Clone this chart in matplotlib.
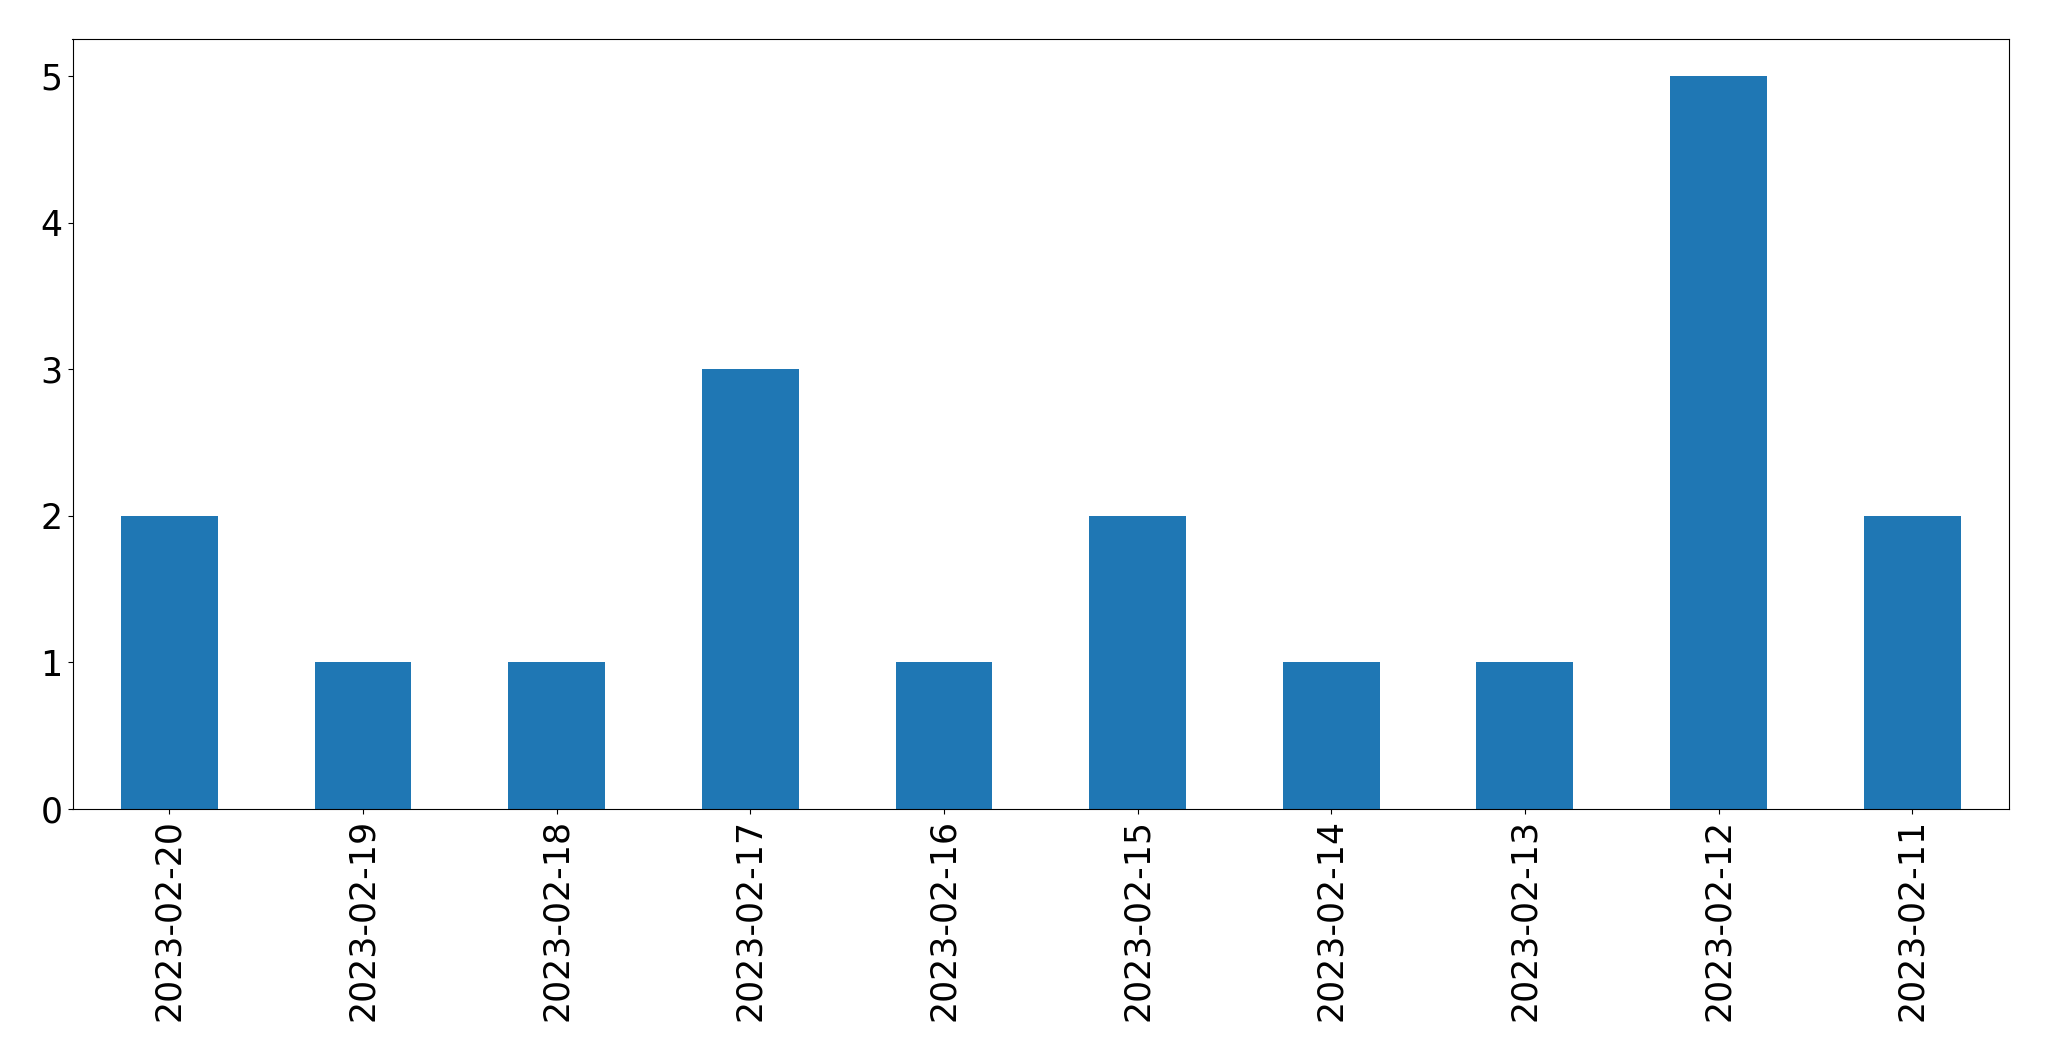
import matplotlib
matplotlib.use("Agg")
import matplotlib.pyplot as plt
import pandas as pd

dates = ["2023-02-20", "2023-02-19", "2023-02-18", "2023-02-17", "2023-02-16",
         "2023-02-15", "2023-02-14", "2023-02-13", "2023-02-12", "2023-02-11"]
counts = [2, 1, 1, 3, 1, 2, 1, 1, 5, 2]

fig = plt.figure(figsize=(20.49, 10.61), dpi=100)
ax = fig.add_axes([72.5 / 2049, 1 - 809 / 1061, (2009 - 72.5) / 2049, (809 - 39.3) / 1061])
s = pd.Series(counts, index=dates)
s.plot(kind="bar", ax=ax, color="#1f77b4", fontsize=25)
ax.tick_params(axis="both", labelsize=25)
fig.savefig("out.png", dpi=100)
